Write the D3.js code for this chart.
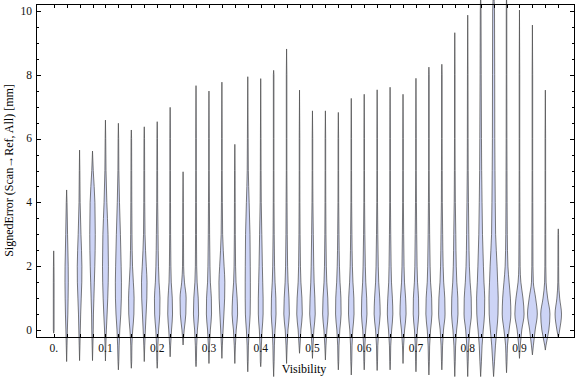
<!DOCTYPE html>
<html>
<head>
<meta charset="utf-8">
<script src="https://cdn.jsdelivr.net/npm/d3@7"></script>
<style>
  body { margin: 0; background: #fff; }
  svg { display: block; }
</style>
</head>
<body>
<div id="chart"></div>
<script>

// category positions (visibility bins)
var visibility = [0, 0.025, 0.05, 0.075, 0.1, 0.125, 0.15, 0.175, 0.2, 0.225,
                  0.25, 0.275, 0.3, 0.325, 0.35, 0.375, 0.4, 0.425, 0.45, 0.475,
                  0.5, 0.525, 0.55, 0.575, 0.6, 0.625, 0.65, 0.675, 0.7, 0.725,
                  0.75, 0.775, 0.8, 0.825, 0.85, 0.875, 0.9, 0.925, 0.95, 0.975];

// extent of each distribution [mm]
var errMax = [2.48, 4.39, 5.64, 5.61, 6.58, 6.48, 6.27, 6.37, 6.53, 6.98,
              4.96, 7.66, 7.49, 7.77, 5.82, 7.94, 7.88, 8.14, 8.81, 7.52,
              6.87, 6.87, 6.82, 7.26, 7.39, 7.53, 7.61, 7.39, 7.89, 8.24,
              8.33, 9.32, 9.87, 10.6, 10.6, 10.6, 10.03, 9.56, 7.52, 3.17];
var errMin = [-0.1, -0.99, -0.96, -0.96, -0.97, -1.25, -1.2, -0.99, -1.2, -0.84,
              -0.47, -1.15, -1.05, -0.89, -1.05, -1.31, -1.15, -1.46, -1.05, -0.73,
              -0.89, -0.94, -1.25, -1.41, -1.25, -1.27, -1.25, -1.05, -1.31, -1.41,
              -1.25, -1.46, -1.46, -1.46, -1.46, -1.34, -0.89, -0.78, -0.63, -0.25];

// relative density of each violin sampled at these error levels
var levels = [-1, -0.5, 0, 0.5, 1, 1.5, 2, 3, 4, 5, 6, 8, 10];
var density = [
  [0.3,0.3,0.4,0.4,0.4,0.4,0.3,0.3,0.3,0.3,0.3,0.3,0.3],
  [0.3,0.4,0.8,1.3,1.6,1.8,1.7,1.0,0.4,0.3,0.3,0.3,0.3],
  [0.3,0.4,0.8,1.2,1.8,2.4,2.5,1.5,0.6,0.3,0.3,0.3,0.3],
  [0.3,0.4,0.8,1.0,1.5,2.0,2.5,3.0,2.6,0.8,0.3,0.3,0.3],
  [0.3,0.4,1.0,1.8,2.5,3.0,3.2,2.8,1.5,0.6,0.3,0.3,0.3],
  [0.4,0.8,1.5,2.6,3.2,3.3,3.0,2.2,1.2,0.5,0.3,0.3,0.3],
  [0.4,0.6,1.5,2.8,3.0,2.2,1.3,0.7,0.5,0.4,0.3,0.3,0.3],
  [0.3,0.5,1.2,2.0,2.8,3.0,2.2,0.8,0.5,0.4,0.3,0.3,0.3],
  [0.4,0.7,1.5,2.8,3.0,2.0,1.4,0.9,0.5,0.4,0.3,0.3,0.3],
  [0.3,0.5,1.5,2.6,2.3,1.2,0.8,0.5,0.4,0.3,0.3,0.3,0.3],
  [0.3,0.5,1.2,3.0,3.3,1.5,0.6,0.4,0.3,0.3,0.3,0.3,0.3],
  [0.4,0.7,1.5,2.8,2.4,1.2,0.7,0.5,0.4,0.3,0.3,0.3,0.3],
  [0.3,0.6,1.5,2.8,2.6,1.5,1.1,0.7,0.5,0.3,0.3,0.3,0.3],
  [0.3,0.5,1.3,2.2,3.0,3.2,2.4,0.8,0.5,0.3,0.3,0.3,0.3],
  [0.3,0.6,1.5,3.0,2.5,1.3,0.8,0.5,0.4,0.3,0.3,0.3,0.3],
  [0.4,0.7,1.5,2.6,2.8,2.8,2.7,2.4,1.5,0.6,0.4,0.3,0.3],
  [0.4,0.7,1.5,2.6,2.6,2.2,1.8,1.2,0.6,0.4,0.3,0.3,0.3],
  [0.5,0.8,1.5,2.6,2.4,1.5,1.0,0.6,0.4,0.3,0.3,0.3,0.3],
  [0.3,0.6,1.5,3.0,2.6,1.6,1.1,0.7,0.5,0.3,0.3,0.3,0.3],
  [0.3,0.5,1.5,3.0,2.6,1.5,1.0,0.6,0.4,0.3,0.3,0.3,0.3],
  [0.3,0.6,1.5,3.0,2.6,1.8,1.4,0.9,0.5,0.3,0.3,0.3,0.3],
  [0.3,0.6,1.6,3.0,2.6,1.5,1.0,0.6,0.4,0.3,0.3,0.3,0.3],
  [0.4,0.7,1.6,3.0,2.8,1.8,1.2,0.7,0.4,0.3,0.3,0.3,0.3],
  [0.5,0.8,1.6,3.0,2.8,1.8,1.2,0.7,0.4,0.3,0.3,0.3,0.3],
  [0.4,0.7,1.6,3.0,2.7,1.7,1.2,0.7,0.4,0.3,0.3,0.3,0.3],
  [0.4,0.7,1.7,3.3,2.8,1.7,1.2,0.7,0.4,0.3,0.3,0.3,0.3],
  [0.4,0.7,1.7,3.0,2.5,1.5,1.1,0.7,0.4,0.3,0.3,0.3,0.3],
  [0.3,0.6,1.7,3.3,2.8,1.6,1.1,0.7,0.4,0.3,0.3,0.3,0.3],
  [0.4,0.7,1.6,3.0,2.8,1.7,1.2,0.8,0.5,0.3,0.3,0.3,0.3],
  [0.5,0.8,1.8,3.3,3.0,1.8,1.3,0.8,0.5,0.3,0.3,0.3,0.3],
  [0.4,0.8,1.8,3.5,3.2,2.0,1.4,0.9,0.5,0.4,0.3,0.3,0.3],
  [0.5,0.9,2.0,3.5,3.3,2.2,1.6,1.1,0.6,0.4,0.3,0.3,0.3],
  [0.5,1.0,2.2,4.0,3.8,2.6,1.8,1.2,0.8,0.5,0.4,0.3,0.3],
  [0.8,1.5,2.8,4.2,4.4,3.6,3.0,2.0,1.5,1.1,0.9,0.6,0.4],
  [1.0,2.0,3.5,4.8,5.0,4.4,3.8,2.2,1.8,1.5,1.3,1.2,1.0],
  [0.5,1.0,2.8,4.7,4.2,2.8,1.5,0.8,0.6,0.5,0.4,0.3,0.3],
  [0.3,0.8,2.5,5.0,3.8,1.5,0.7,0.5,0.4,0.3,0.3,0.3,0.3],
  [0.3,1.0,3.0,5.3,3.5,1.0,0.6,0.5,0.4,0.3,0.3,0.3,0.3],
  [0.3,0.6,3.8,5.0,2.5,0.8,0.5,0.4,0.3,0.3,0.3,0.3,0.3],
  [0.3,0.3,1.5,3.5,1.5,0.5,0.4,0.3,0.3,0.3,0.3,0.3,0.3]
];

var xTickValues = [0, 0.1, 0.2, 0.3, 0.4, 0.5, 0.6, 0.7, 0.8, 0.9];
var xTickLabels = ["0.", "0.1", "0.2", "0.3", "0.4", "0.5", "0.6", "0.7", "0.8", "0.9"];
var yTickValues = [0, 2, 4, 6, 8, 10];

var W = 576, H = 377;
var box = {left: 36, right: 575, top: 4, bottom: 337};

var x = d3.scaleLinear().domain([-0.0342, 1.0073]).range([box.left, box.right]);
var y = d3.scaleLinear().domain([-0.22, 10.22]).range([box.bottom, box.top]);
var w = d3.scaleLinear().domain([0, 5]).range([0, 4.6]);   // density -> half width

var svg = d3.select("#chart").append("svg")
    .attr("width", W)
    .attr("height", H)
    .style("font-family", "'Liberation Serif', 'Times New Roman', serif");

// build the outline points of one violin
function violinPoints(i) {
    var pts = [{v: errMin[i], d: 0}];
    levels.forEach(function(lv, k) {
        if (lv > errMin[i] + 0.05 && lv < errMax[i] - 0.05)
            pts.push({v: lv, d: density[i][k]});
    });
    pts.push({v: errMax[i], d: 0});
    return pts;
}

var violin = d3.area()
    .y(function(d) { return y(d.v); })
    .x0(function(d) { return -w(d.d); })
    .x1(function(d) { return w(d.d); })
    .curve(d3.curveMonotoneY);

svg.append("g").selectAll("path")
    .data(visibility)
    .enter().append("path")
    .attr("transform", function(d) { return "translate(" + x(d) + ",0)"; })
    .attr("d", function(d, i) { return violin(violinPoints(i)); })
    .attr("fill", "#cdd4f6")
    .attr("stroke", "#505050")
    .attr("stroke-width", 0.9)
    .attr("stroke-opacity", 0.85);

// -- frame and ticks
var frame = svg.append("g").attr("stroke", "#000").attr("stroke-width", 1).attr("fill", "none");
frame.append("rect")
    .attr("x", box.left + 0.5).attr("y", box.top + 0.5)
    .attr("width", box.right - box.left - 1).attr("height", box.bottom - box.top);

visibility.forEach(function(v) {
    var px = Math.round(x(v)) + 0.5;
    frame.append("line").attr("x1", px).attr("x2", px)
        .attr("y1", box.bottom + 0.5).attr("y2", box.bottom - 3);
    frame.append("line").attr("x1", px).attr("x2", px)
        .attr("y1", box.top + 0.5).attr("y2", box.top + 4);
});

y.ticks(20).forEach(function(v) {
    var py = Math.round(y(v)) + 0.5;
    var len = (v % 2 === 0) ? 4.5 : 2.5;
    frame.append("line").attr("x1", box.left + 0.5).attr("x2", box.left + 0.5 + len)
        .attr("y1", py).attr("y2", py);
    frame.append("line").attr("x1", box.right - 0.5).attr("x2", box.right - 0.5 - len)
        .attr("y1", py).attr("y2", py);
});

// -- tick labels
svg.append("g").selectAll("text")
    .data(xTickValues)
    .enter().append("text")
    .attr("x", function(d) { return x(d); })
    .attr("y", 351.5)
    .attr("text-anchor", "middle")
    .attr("font-size", "11.5px")
    .attr("fill", "#111")
    .text(function(d, i) { return xTickLabels[i]; });

svg.append("g").selectAll("text")
    .data(yTickValues)
    .enter().append("text")
    .attr("x", 32)
    .attr("y", function(d) { return y(d) + 3.8; })
    .attr("text-anchor", "end")
    .attr("font-size", "11.5px")
    .attr("fill", "#111")
    .text(function(d) { return d; });

// -- axis titles
svg.append("text")
    .attr("x", 304).attr("y", 373)
    .attr("text-anchor", "middle")
    .attr("font-size", "12px")
    .text("Visibility");

svg.append("text")
    .attr("transform", "translate(12.5," + ((box.top + box.bottom) / 2) + ") rotate(-90)")
    .attr("text-anchor", "middle")
    .attr("font-size", "12px")
    .text("SignedError (Scan\u2192Ref, All) [mm]");

</script>
</body>
</html>
